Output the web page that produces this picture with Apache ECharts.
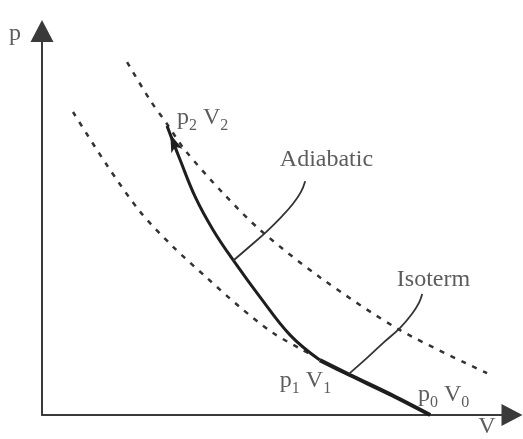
<!DOCTYPE html>
<html><head><meta charset="utf-8">
<style>html,body{margin:0;padding:0;background:#fff}#c{width:523px;height:439px}</style>
<script src="https://cdn.jsdelivr.net/npm/echarts@6/dist/echarts.min.js"></script>
</head><body><div id="c"></div>
<script>
// Volume V and pressure p in arbitrary units (axes span 0..10)
const outerIsothermV = [1.81, 2.30, 2.66, 3.04, 3.85, 4.64, 5.91, 7.62, 9.47];
const outerIsothermP = [9.19, 8.20, 7.58, 6.90, 5.78, 4.82, 3.59, 2.21, 1.09];
const innerIsothermV = [0.66, 1.38, 2.09, 2.79, 3.51, 4.21, 4.91, 5.55, 5.74];
const innerIsothermP = [7.89, 6.51, 5.29, 4.38, 3.57, 2.81, 2.14, 1.69, 1.56];
const adiabatV = [2.66, 2.94, 3.26, 3.64, 4.11, 4.64, 5.28, 5.91];
const adiabatP = [7.53, 6.64, 5.68, 4.82, 3.96, 3.07, 2.08, 1.43];
const isothermV = [5.91, 6.55, 7.47, 8.26];
const isothermP = [1.43, 1.04, 0.50, 0.00];
const adiabatLeaderV = [4.06, 4.43, 4.79, 5.11, 5.34, 5.51, 5.60];
const adiabatLeaderP = [4.01, 4.40, 4.79, 5.18, 5.50, 5.81, 6.09];
const isothermLeaderV = [6.53, 6.91, 7.26, 7.62, 7.87, 8.02, 8.09];
const isothermLeaderP = [1.07, 1.48, 1.88, 2.27, 2.63, 2.92, 3.15];
const labelTexts = ['{m|p}{s|2} {m|V}{s|2}', 'Adiabatic', 'Isoterm', '{m|p}{s|1} {m|V}{s|1}', '{m|p}{s|0} {m|V}{s|0}', 'p', 'V'];
const labelV = [2.87, 5.06, 7.55, 5.06, 8.00, -0.70, 9.28];
const labelP = [7.73, 6.64, 3.52, 0.89, 0.52, 9.92, -0.31];

const zip = (vs, ps) => vs.map((v, i) => [v, ps[i]]);
const FONT = '"Liberation Serif", "Times New Roman", serif';

const chart = echarts.init(document.getElementById('c'), null, {renderer: 'canvas'});
const dashed = {color: '#333', width: 2.5, type: [5, 7]};
const lineBase = {type: 'line', showSymbol: false, symbol: 'none', silent: true, clip: false, animation: false};

chart.setOption({
  backgroundColor: '#fff',
  animation: false,
  grid: {left: 42, right: 11, top: 31, bottom: 24, containLabel: false},
  xAxis: {
    type: 'value', min: 0, max: 10,
    axisLine: {show: true, onZero: false, symbol: ['none', 'triangle'], symbolSize: [22, 21], lineStyle: {color: '#3a3a3a', width: 2}},
    axisTick: {show: false}, axisLabel: {show: false}, splitLine: {show: false}
  },
  yAxis: {
    type: 'value', min: 0, max: 10,
    axisLine: {show: true, onZero: false, symbol: ['none', 'triangle'], symbolSize: [23, 22], lineStyle: {color: '#3a3a3a', width: 2}},
    axisTick: {show: false}, axisLabel: {show: false}, splitLine: {show: false}
  },
  series: [
    Object.assign({}, lineBase, {name: 'outer', data: zip(outerIsothermV, outerIsothermP), smooth: 0.3, lineStyle: dashed}),
    Object.assign({}, lineBase, {name: 'inner', data: zip(innerIsothermV, innerIsothermP), smooth: 0.3, lineStyle: dashed}),
    Object.assign({}, lineBase, {
      name: 'adiabat', data: zip(adiabatV, adiabatP), smooth: 0.4,
      lineStyle: {color: '#1e1e1e', width: 3},
      markPoint: {
        symbol: 'arrow', symbolSize: [9, 18], symbolRotate: 21.5, symbolOffset: [3.3, 8.4],
        itemStyle: {color: '#1e1e1e'}, label: {show: false}, silent: true, animation: false,
        data: [{coord: [adiabatV[0], adiabatP[0]]}]
      }
    }),
    Object.assign({}, lineBase, {name: 'isotherm', data: zip(isothermV, isothermP), smooth: 0.3, lineStyle: {color: '#1e1e1e', width: 4}}),
    Object.assign({}, lineBase, {name: 'leaderA', data: zip(adiabatLeaderV, adiabatLeaderP), smooth: 0.4, lineStyle: {color: '#333', width: 1.8}}),
    Object.assign({}, lineBase, {name: 'leaderI', data: zip(isothermLeaderV, isothermLeaderP), smooth: 0.4, lineStyle: {color: '#333', width: 1.8}}),
    {
      type: 'scatter', silent: true, clip: false, animation: false, symbolSize: 0,
      data: labelTexts.map((t, i) => ({value: [labelV[i], labelP[i]], label: {formatter: t}})),
      label: {
        show: true, position: 'right', distance: 0,
        color: '#333', fontFamily: FONT, fontSize: 24,
        rich: {
          m: {fontFamily: FONT, fontSize: 24, color: '#333'},
          s: {fontFamily: FONT, fontSize: 16, color: '#333', padding: [16, 0, 0, 0]}
        }
      }
    }
  ]
});
</script></body></html>
